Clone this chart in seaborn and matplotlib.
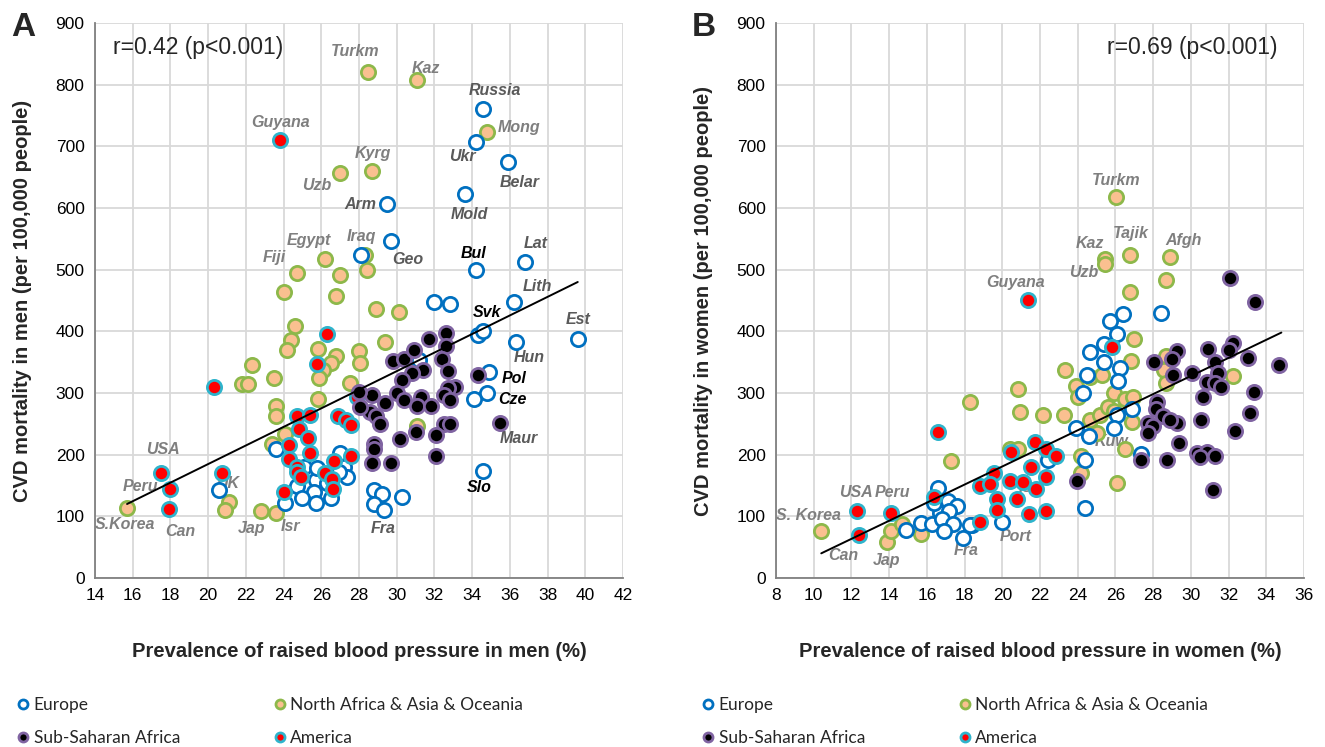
import numpy as np
import pandas as pd
import matplotlib
matplotlib.use("Agg")
import matplotlib.pyplot as plt
from matplotlib import font_manager
from matplotlib.lines import Line2D
import seaborn as sns

# --- Panel A: men (x = prevalence %, y = CVD mortality) ---
eur_a_x = [34.6, 34.2, 35.9, 33.6, 29.5, 29.7, 28.1, 34.2, 36.8, 36.2, 32.0, 32.8, 34.3, 34.6,
           39.6, 36.3, 34.9, 34.8, 34.1, 34.6, 20.6, 23.6, 24.1, 31.2, 24.7, 25.7, 26.3, 25.6,
           25.0, 25.7, 26.5, 27.0, 27.2, 27.35, 25.1, 25.75, 26.95, 28.8, 29.2, 28.8, 29.3, 30.3]
eur_a_y = [761, 707, 674, 623, 607, 546, 524, 499, 513, 448, 448, 444, 394, 401,
           387, 383, 334, 300, 291, 174, 142, 210, 122, 353, 149, 159, 154, 140,
           129, 122, 129, 202, 180, 163, 180, 179, 172, 142, 136, 120, 111, 132]

asia_a_x = [28.5, 31.1, 34.8, 28.7, 27.0, 28.3, 28.4, 26.2, 27.0, 24.7, 24.0, 26.8, 28.9, 30.1,
            24.6, 24.4, 24.2, 25.8, 26.8, 26.5, 26.1, 25.9, 28.0, 28.05, 27.5, 29.4, 25.8, 22.3,
            21.8, 22.1, 23.5, 23.6, 23.6, 23.4, 24.1, 15.7, 21.1, 20.9, 22.8, 23.6, 31.05]
asia_a_y = [821, 808, 724, 660, 657, 524, 499, 517, 491, 495, 464, 457, 436, 431,
            409, 386, 370, 371, 360, 348, 337, 325, 368, 348, 317, 383, 290, 345,
            314, 314, 325, 279, 263, 217, 233, 113, 124, 111, 109, 106, 246]

ssa_a_x = [29.8, 30.4, 30.9, 31.7, 32.6, 32.6, 32.4, 32.7, 31.4, 30.8, 30.3, 33.1, 32.7, 32.5,
           32.8, 30.0, 30.4, 31.3, 31.05, 31.8, 28.7, 29.4, 28.6, 28.9, 29.1, 32.5, 32.8, 31.0,
           32.1, 30.2, 28.8, 28.8, 28.7, 29.7, 32.1, 28.0, 28.05, 34.3, 35.5]
ssa_a_y = [352, 355, 369, 387, 397, 377, 355, 336, 338, 332, 321, 310, 308, 297,
           288, 300, 288, 294, 279, 279, 297, 284, 270, 262, 249, 250, 250, 237,
           232, 225, 218, 209, 187, 186, 198, 302, 278, 330, 252]

ame_a_x = [23.8, 17.5, 18.0, 17.9, 20.3, 20.75, 24.0, 24.3, 24.3, 26.3, 25.75, 27.9, 24.7, 25.4,
           26.9, 27.3, 27.6, 24.8, 25.3, 25.4, 24.7, 24.7, 24.9, 27.6, 26.7, 26.2, 26.55, 26.6]
ame_a_y = [710, 171, 144, 112, 309, 171, 140, 216, 193, 395, 347, 294, 263, 265,
           263, 257, 248, 242, 227, 202, 180, 172, 164, 198, 189, 170, 160, 145]

trend_a_x = [15.7, 39.6]
trend_a_y = [120, 480]

# --- Panel B: women ---
eur_b_x = [28.4, 25.7, 26.4, 26.1, 25.4, 24.65, 25.4, 26.25, 26.15, 24.3, 26.9, 26.1, 23.9, 24.6,
           25.9, 27.35, 24.4, 24.4, 22.4, 20.0, 18.4, 14.9, 15.7, 16.25, 16.7, 16.6, 16.4, 17.1,
           17.6, 17.2, 16.8, 17.4, 16.9, 17.9, 18.3, 24.5]
eur_b_y = [429, 417, 428, 396, 379, 367, 351, 340, 320, 300, 274, 264, 243, 230,
           243, 201, 192, 114, 191, 91, 86, 78, 89, 87, 105, 146, 121, 125,
           117, 108, 95, 88, 77, 65, 86, 330]

asia_b_x = [26.05, 25.45, 25.45, 26.75, 28.9, 28.7, 26.75, 27.0, 26.85, 23.35, 24.65, 25.3, 23.9, 24.0,
            20.85, 18.3, 25.9, 26.5, 26.95, 20.95, 22.15, 23.25, 24.65, 25.2, 25.6, 25.9, 26.9, 25.0,
            26.5, 24.2, 24.2, 26.1, 20.4, 20.85, 32.25, 28.7, 28.6, 28.7, 10.4, 13.9, 14.1, 14.7,
            15.7, 17.3]
asia_b_y = [618, 518, 509, 523, 521, 483, 463, 388, 352, 337, 326, 329, 311, 294,
            306, 286, 300, 290, 294, 270, 264, 264, 256, 264, 278, 271, 253, 235,
            210, 198, 171, 154, 210, 210, 327, 360, 337, 316, 77, 59, 77, 87,
            71, 190]

ssa_b_x = [32.1, 33.4, 32.25, 32.0, 30.9, 33.05, 34.7, 31.3, 29.25, 29.0, 28.05, 30.05, 29.05, 31.45,
           30.85, 31.3, 31.6, 33.35, 30.65, 28.2, 28.15, 28.5, 29.25, 28.9, 27.75, 28.0, 27.75, 30.55,
           33.15, 32.35, 29.35, 30.35, 30.85, 31.3, 30.5, 27.35, 28.75, 31.15, 23.95]
ssa_b_y = [486, 448, 381, 370, 372, 356, 345, 351, 368, 355, 351, 332, 330, 332,
           318, 316, 310, 301, 293, 286, 274, 262, 252, 257, 251, 247, 235, 257,
           268, 238, 219, 203, 204, 198, 197, 191, 191, 142, 158]

ame_b_x = [21.35, 12.3, 12.4, 14.1, 16.4, 16.6, 18.8, 18.8, 25.8, 20.45, 21.75, 22.3, 22.85, 21.5,
           22.3, 19.55, 19.35, 20.4, 21.1, 21.8, 20.8, 19.7, 19.7, 21.4, 22.3]
ame_b_y = [451, 109, 69, 106, 131, 237, 149, 91, 375, 205, 221, 209, 198, 180,
           164, 170, 152, 158, 156, 144, 128, 128, 111, 104, 109]

trend_b_x = [10.4, 34.8]
trend_b_y = [40, 398]

# country labels (name, x, y, colour key)
labels_a = [("Turkm", 27.8, 853, "g"), ("Kaz", 31.55, 827, "g"), ("Guyana", 23.85, 738, "g"),
            ("Russia", 35.2, 790, "d"), ("Mong", 36.5, 730, "g"), ("Ukr", 33.5, 684, "d"),
            ("Belar", 36.5, 642, "d"), ("Kyrg", 28.75, 689, "g"), ("Uzb", 25.75, 637, "g"),
            ("Arm", 28.05, 605, "d"), ("Mold", 33.85, 589, "d"), ("Egypt", 25.35, 548, "g"),
            ("Iraq", 28.15, 553, "g"), ("Fiji", 23.5, 519, "g"), ("Geo", 30.6, 517, "d"),
            ("Bul", 34.1, 527, "k"), ("Lat", 37.35, 542, "d"), ("Lith", 37.45, 472, "d"),
            ("Svk", 34.8, 431, "k"), ("Est", 39.6, 420, "d"), ("Hun", 37.05, 357, "d"),
            ("Pol", 36.25, 324, "k"), ("Cze", 36.15, 289, "k"), ("Maur", 36.5, 227, "d"),
            ("Slo", 34.4, 146, "k"), ("Fra", 29.3, 81, "d"), ("Isr", 24.35, 83, "g"),
            ("Jap", 22.3, 81, "g"), ("Can", 18.5, 76, "g"), ("S.Korea", 15.6, 86, "g"),
            ("USA", 17.6, 209, "g"), ("Peru", 16.4, 148, "g"), ("UK", 21.05, 154, "g")]
labels_b = [("Turkm", 26.05, 645, "g"), ("Kaz", 24.65, 543, "g"), ("Tajik", 26.8, 558, "g"),
            ("Afgh", 29.6, 548, "g"), ("Uzb", 24.3, 495, "g"), ("Guyana", 20.7, 480, "g"),
            ("Kuw", 25.8, 221, "g"), ("Isr", 21.4, 146, "g"), ("Port", 20.7, 68, "g"),
            ("Fra", 18.1, 44, "g"), ("Jap", 13.85, 28, "g"), ("Can", 11.55, 36, "g"),
            ("S. Korea", 9.7, 101, "g"), ("USA", 12.25, 138, "g"), ("Peru", 14.2, 138, "g")]

regions = ["Europe", "North Africa & Asia & Oceania", "Sub-Saharan Africa", "America"]
face = {"Europe": "white", "North Africa & Asia & Oceania": "#FAC090",
        "Sub-Saharan Africa": "black", "America": "#FF0000"}
edge = {"Europe": "#0070C0", "North Africa & Asia & Oceania": "#8DB84A",
        "Sub-Saharan Africa": "#8064A2", "America": "#2EB4CC"}
label_col = {"g": "#7F7F7F", "d": "#5A5A5A", "k": "black"}


def make_df(sets):
    frames = []
    for reg, (xs, ys) in zip(regions, sets):
        frames.append(pd.DataFrame({"x": xs, "y": ys, "region": reg}))
    return pd.concat(frames, ignore_index=True)


df_a = make_df([(eur_a_x, eur_a_y), (asia_a_x, asia_a_y), (ssa_a_x, ssa_a_y), (ame_a_x, ame_a_y)])
df_b = make_df([(eur_b_x, eur_b_y), (asia_b_x, asia_b_y), (ssa_b_x, ssa_b_y), (ame_b_x, ame_b_y)])


def have_font(name):
    try:
        font_manager.findfont(font_manager.FontProperties(family=name), fallback_to_default=False)
        return True
    except Exception:
        return False


narrow = have_font("Liberation Sans Narrow")
main_font = "Liberation Sans Narrow" if narrow else "Liberation Sans"

sns.set_style("white")
plt.rcParams["font.family"] = [main_font, "DejaVu Sans"]
tick_size = 14 if narrow else 12.5
axlab_size = 16 if narrow else 14.5

fig = plt.figure(figsize=(13.25, 7.47), dpi=100)
ax_a = fig.add_axes([95 / 1325, 169 / 747, 528 / 1325, 555 / 747])
ax_b = fig.add_axes([776 / 1325, 169 / 747, 528 / 1325, 555 / 747])

draw_order = ["North Africa & Asia & Oceania", "Europe", "America", "Sub-Saharan Africa"]


def panel(ax, df, tx, ty, xlim, xticks, labels, xlabel, ylabel, rtext, rx, ha, letter):
    for reg in draw_order:
        sub = df[df["region"] == reg]
        sns.scatterplot(data=sub, x="x", y="y", ax=ax, s=105, color=face[reg],
                        edgecolor=edge[reg], linewidth=2.0, zorder=3, legend=False)
    sns.lineplot(x=tx, y=ty, ax=ax, color="black", linewidth=1.4, zorder=4)
    for name, lx, ly, c in labels:
        ax.text(lx, ly, name, ha="center", va="center", fontsize=11.5, style="italic",
                fontweight="bold", color=label_col[c], zorder=2,
                family=["Liberation Sans", "DejaVu Sans"])
    ax.set_xlim(*xlim)
    ax.set_ylim(0, 900)
    ax.set_xticks(xticks)
    ax.set_yticks(range(0, 901, 100))
    ax.grid(True, color="#D9D9D9", linewidth=1.3, zorder=0)
    ax.set_axisbelow(True)
    for side in ["top", "right"]:
        ax.spines[side].set_visible(False)
    for side in ["left", "bottom"]:
        ax.spines[side].set_color("#808080")
        ax.spines[side].set_linewidth(1.3)
    ax.tick_params(axis="both", direction="inout", length=7, width=1.2, color="#808080",
                   labelsize=tick_size, labelcolor="black", pad=4)
    ax.set_xlabel(xlabel, fontsize=axlab_size, fontweight="bold", labelpad=28)
    ax.set_ylabel(ylabel, fontsize=axlab_size, fontweight="bold", labelpad=17)
    ax.text(rx, 0.955, rtext, transform=ax.transAxes, ha=ha, va="center", fontsize=16.5,
            family=["Liberation Sans", "DejaVu Sans"])
    fig.text(ax.get_position().x0 - 84 / 1325, 0.963, letter, fontsize=24, fontweight="bold",
             ha="left", va="center", family=["Liberation Sans", "DejaVu Sans"])


panel(ax_a, df_a, trend_a_x, trend_a_y, (14, 42), range(14, 43, 2), labels_a,
      "Prevalence of raised blood pressure in men (%)",
      "CVD mortality in men (per 100,000 people)", "r=0.42 (p<0.001)", 0.035, "left", "A")
panel(ax_b, df_b, trend_b_x, trend_b_y, (8, 36), range(8, 37, 2), labels_b,
      "Prevalence of raised blood pressure in women (%)",
      "CVD mortality in women (per 100,000 people)", "r=0.69 (p<0.001)", 0.95, "right", "B")

names = ["Europe", "Sub-Saharan Africa", "North Africa & Asia & Oceania", "America"]
handles = [Line2D([], [], linestyle="none", marker="o", markersize=6.5,
                  markerfacecolor=face[r], markeredgecolor=edge[r], markeredgewidth=2.0)
           for r in names]
leg_font = main_font if narrow else "Lato"
leg_size = 15 if narrow else 12.5
for x0 in [12 / 1325, 697 / 1325]:
    fig.legend(handles, names, loc="upper left", bbox_to_anchor=(x0, 57 / 747), ncol=2,
               frameon=False, handlelength=0.5, handletextpad=0.35,
               columnspacing=5.5, labelspacing=1.0, borderaxespad=0,
               prop={"family": [leg_font, "DejaVu Sans"], "size": leg_size})

fig.savefig("out.png", dpi=100)
